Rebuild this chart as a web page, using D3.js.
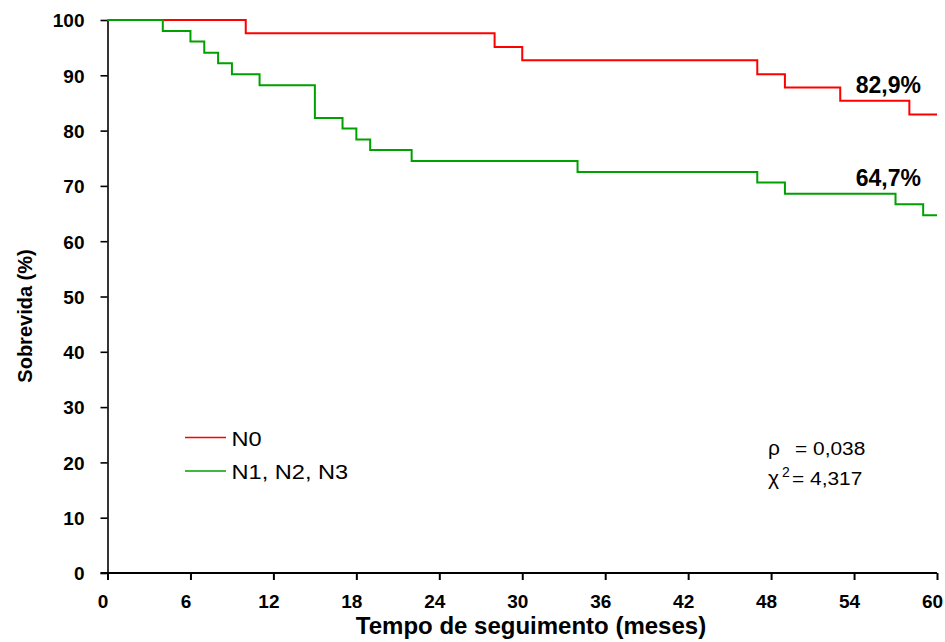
<!DOCTYPE html>
<html>
<head>
<meta charset="utf-8">
<script src="https://cdn.jsdelivr.net/npm/d3@7"></script>
<style>
  html, body { margin: 0; padding: 0; background: #fff; }
  svg { display: block; font-family: "Liberation Sans", Arial, sans-serif; }
</style>
</head>
<body>
<svg id="chart" width="945" height="642"></svg>
<script>
// Kaplan-Meier survival by nodal status (months of follow-up)
const xTicks = [0, 6, 12, 18, 24, 30, 36, 42, 48, 54, 60];
const yTicks = [0, 10, 20, 30, 40, 50, 60, 70, 80, 90, 100];

const n0Times = [0, 10, 28, 30, 47, 49, 53, 58, 60];
const n0Surv  = [100, 97.6, 95.1, 92.7, 90.2, 87.8, 85.4, 82.9, 82.9];

const nPosTimes = [0, 4, 6, 7, 8, 9, 11, 15, 17, 18, 19, 22, 34, 47, 49, 57, 59, 60];
const nPosSurv  = [100, 98.0, 96.1, 94.1, 92.2, 90.2, 88.2, 82.3, 80.4, 78.4, 76.5, 74.5, 72.5, 70.6, 68.6, 66.7, 64.7, 64.7];

const seriesNames = ["N0", "N1, N2, N3"];
const seriesColors = ["#ff0000", "#00a000"];

const pValue = "0,038";
const chiSq = "4,317";

const svg = d3.select("#chart");

const x = d3.scaleLinear().domain([0, 60]).range([107.5, 937]);
const y = d3.scaleLinear().domain([0, 100]).range([573, 20]);

// y axis
const yAxis = svg.append("g")
  .attr("transform", `translate(${x(0)},0)`)
  .call(d3.axisLeft(y).tickValues(yTicks).tickSize(7).tickSizeOuter(0).tickPadding(16));
yAxis.select(".domain").attr("stroke", "#000").attr("stroke-width", 1.6);
yAxis.selectAll(".tick line").attr("stroke", "#000").attr("stroke-width", 1.6);
yAxis.selectAll(".tick text")
  .attr("fill", "#000")
  .style("font-size", "19px")
  .style("font-weight", "bold")
  .attr("dy", "0.36em");

// x axis
const xAxis = svg.append("g")
  .attr("transform", `translate(0,${y(0)})`)
  .call(d3.axisBottom(x).tickValues(xTicks).tickSize(7).tickSizeOuter(0).tickPadding(10));
xAxis.select(".domain").attr("stroke", "#000").attr("stroke-width", 2.2)
  .attr("d", `M${x(0) - 7},0H${x(60)}`);
xAxis.selectAll(".tick line").attr("stroke", "#000").attr("stroke-width", 2);
xAxis.selectAll(".tick text")
  .attr("fill", "#000")
  .attr("x", -5)
  .style("font-size", "19px")
  .style("font-weight", "bold")
  .attr("dy", "0.95em");

// axis titles
svg.append("text")
  .attr("x", 531).attr("y", 634)
  .attr("text-anchor", "middle")
  .style("font-size", "24px").style("font-weight", "bold")
  .text("Tempo de seguimento (meses)");

svg.append("text")
  .attr("transform", "translate(32,316) rotate(-90)")
  .attr("text-anchor", "middle")
  .style("font-size", "20px").style("font-weight", "bold")
  .text("Sobrevida (%)");

// survival curves
const step = d3.line()
  .x(d => x(d[0]))
  .y(d => y(d[1]))
  .curve(d3.curveStepAfter);

const curves = [
  d3.zip(n0Times, n0Surv),
  d3.zip(nPosTimes, nPosSurv)
];

curves.forEach((pts, i) => {
  svg.append("path")
    .datum(pts)
    .attr("fill", "none")
    .attr("stroke", seriesColors[i])
    .attr("stroke-width", 2)
    .attr("d", step);
});

// final survival labels
const fmt = v => d3.format(".1f")(v).replace(".", ",") + "%";
const labelOffsets = [22, 29];
curves.forEach((pts, i) => {
  const last = pts[pts.length - 1];
  svg.append("text")
    .attr("x", x(last[0]) - 16)
    .attr("y", y(last[1]) - labelOffsets[i])
    .attr("text-anchor", "end")
    .style("font-size", "23px").style("font-weight", "bold")
    .text(fmt(last[1]));
});

// legend
const legend = svg.append("g");
seriesNames.forEach((name, i) => {
  const ly = 437.5 + i * 33.5;
  legend.append("line")
    .attr("x1", 185).attr("x2", 226)
    .attr("y1", ly).attr("y2", ly)
    .attr("stroke", seriesColors[i]).attr("stroke-width", 1.5);
  legend.append("text")
    .attr("transform", `translate(231.5,${ly + 8}) scale(1.18,1)`)
    .style("font-size", "20px")
    .text(name);
});

// test statistics
const stats = svg.append("g").style("font-size", "19px");
stats.append("text").attr("x", 768).attr("y", 455).style("font-size", "21px").text("ρ");
stats.append("text").attr("transform", "translate(795,455) scale(1.1,1)").text("= " + pValue);
stats.append("text").attr("x", 768).attr("y", 485).style("font-size", "21px").text("χ");
stats.append("text").attr("x", 782).attr("y", 477).style("font-size", "14px").text("2");
stats.append("text").attr("transform", "translate(792,485) scale(1.1,1)").text("= " + chiSq);
</script>
</body>
</html>
